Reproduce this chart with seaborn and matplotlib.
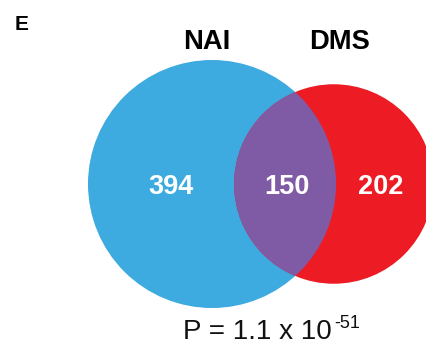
import numpy as np
import matplotlib
matplotlib.use("Agg")
import matplotlib.pyplot as plt
from matplotlib.patches import Circle
import seaborn as sns

# Set sizes of the two probe-reactive groups
set_names = ["NAI", "DMS"]
only_counts = [394, 202]
shared_count = 150
set_colors = ["#3DAAE0", "#ED1C24"]
overlap_color = "#7F5BA6"
p_mantissa = "1.1"
p_exponent = "-51"

sns.set_theme(style="white")
plt.rcParams["font.family"] = ["Liberation Sans", "DejaVu Sans"]
plt.rcParams["text.color"] = "black"

fig = plt.figure(figsize=(4.26, 3.48), dpi=100)
ax = fig.add_axes([0, 0, 1, 1])
ax.set_xlim(0, 426)
ax.set_ylim(348, 0)
ax.set_aspect("equal")
ax.axis("off")

# Area-proportional circles: area scales with set size
totals = [only_counts[0] + shared_count, only_counts[1] + shared_count]
px_per_item = np.pi * 124.0 ** 2 / totals[0]
r1, r2 = [np.sqrt(t * px_per_item / np.pi) for t in totals]
target = shared_count * px_per_item


def lens_area(d, a, b):
    if d >= a + b:
        return 0.0
    if d <= abs(a - b):
        return np.pi * min(a, b) ** 2
    d1 = (d * d + a * a - b * b) / (2 * d)
    d2 = d - d1
    s1 = a * a * np.arccos(d1 / a) - d1 * np.sqrt(a * a - d1 * d1)
    s2 = b * b * np.arccos(d2 / b) - d2 * np.sqrt(b * b - d2 * d2)
    return s1 + s2


lo, hi = abs(r1 - r2), r1 + r2
for _ in range(80):
    mid = 0.5 * (lo + hi)
    if lens_area(mid, r1, r2) > target:
        lo = mid
    else:
        hi = mid
dist = 0.5 * (lo + hi)

cx1, cy = 212.0, 184.0
cx2 = cx1 + dist

c1 = Circle((cx1, cy), r1, facecolor=set_colors[0], edgecolor="none", zorder=1)
c2 = Circle((cx2, cy), r2, facecolor=set_colors[1], edgecolor="none", zorder=2)
ax.add_patch(c1)
ax.add_patch(c2)
# Overlap region: blue circle clipped to the red one
lens = Circle((cx1, cy), r1, facecolor=overlap_color, edgecolor="none", zorder=3)
ax.add_patch(lens)
lens.set_clip_path(Circle((cx2, cy), r2, transform=ax.transData))

# Region counts
count_kw = dict(color="white", fontsize=19.5, fontweight="bold",
                ha="center", va="baseline", zorder=5)
ax.text(171, 194, str(only_counts[0]), **count_kw)
ax.text(287, 194, str(shared_count), **count_kw)
ax.text(381, 194, str(only_counts[1]), **count_kw)

# Set titles
title_kw = dict(color="black", fontsize=19.7, fontweight="bold",
                ha="center", va="baseline")
ax.text(206.5, 49.3, set_names[0], **title_kw)
ax.text(339.5, 49.3, set_names[1], **title_kw)

# Panel letter
ax.text(15, 30, "E", fontsize=15, fontweight="bold", ha="left",
        va="baseline", color="black")

# Hypergeometric p-value
ptxt = ax.text(183, 339, f"P = {p_mantissa} x 10", fontsize=20,
               ha="left", va="baseline", color="#111111")
ax.annotate(p_exponent, xy=(1, 1), xycoords=ptxt, xytext=(1.5, 3),
            textcoords="offset points", fontsize=13, ha="left", va="top",
            color="#111111")

fig.savefig("out.png", dpi=100)
